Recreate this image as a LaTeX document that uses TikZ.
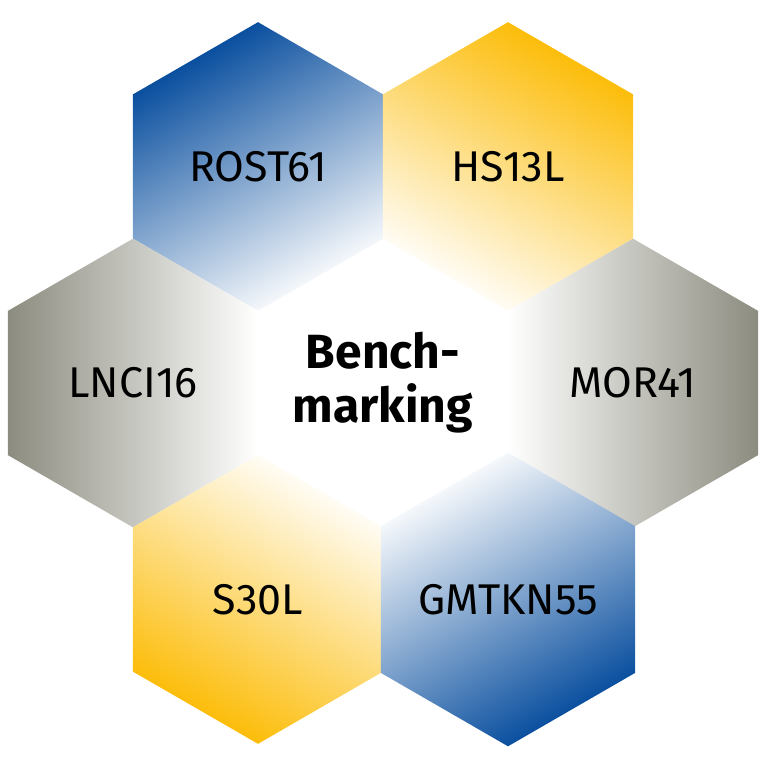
\documentclass[tikz,border=0pt]{standalone}
\usepackage{fontspec}
\setsansfont{Fira Sans}
\usetikzlibrary{shapes.geometric}

\definecolor{hexblue}{RGB}{0,72,155}
\definecolor{hexorange}{RGB}{252,186,0}
\definecolor{hexgray}{RGB}{140,140,128}

\begin{document}
\begin{tikzpicture}[x=0.5pt,y=-0.5pt]

      \useasboundingbox (0,0) rectangle (768,768);

      \begin{scope}[every node/.style={regular polygon, regular polygon sides=6,
          shape border rotate=30, minimum size=144.34pt, inner sep=0pt,
          font=\sffamily\fontsize{21.5}{25}\selectfont}]
        \node[fill=white, align=center, font=\sffamily\bfseries\fontsize{24}{27}\selectfont] (bench) at (383,383) {Bench-\\marking};
        \node[top color=hexblue, bottom color=white, shading angle=30] (rost) at (258,166.5) {ROST61};
        \node[top color=hexorange, bottom color=white, shading angle=-30] (hs) at (508,166.5) {HS13L};
        \node[top color=hexgray, bottom color=white, shading angle=90] (lnci) at (133,383) {LNCI16};
        \node[top color=hexgray, bottom color=white, shading angle=-90] (mor) at (633,383) {MOR41};
        \node[top color=hexorange, bottom color=white, shading angle=150] (s30) at (258,599.5) {S30L};
        \node[top color=hexblue, bottom color=white, shading angle=210] (gmtkn) at (508,599.5) {GMTKN55};
      \end{scope}

    \end{tikzpicture}
\end{document}
